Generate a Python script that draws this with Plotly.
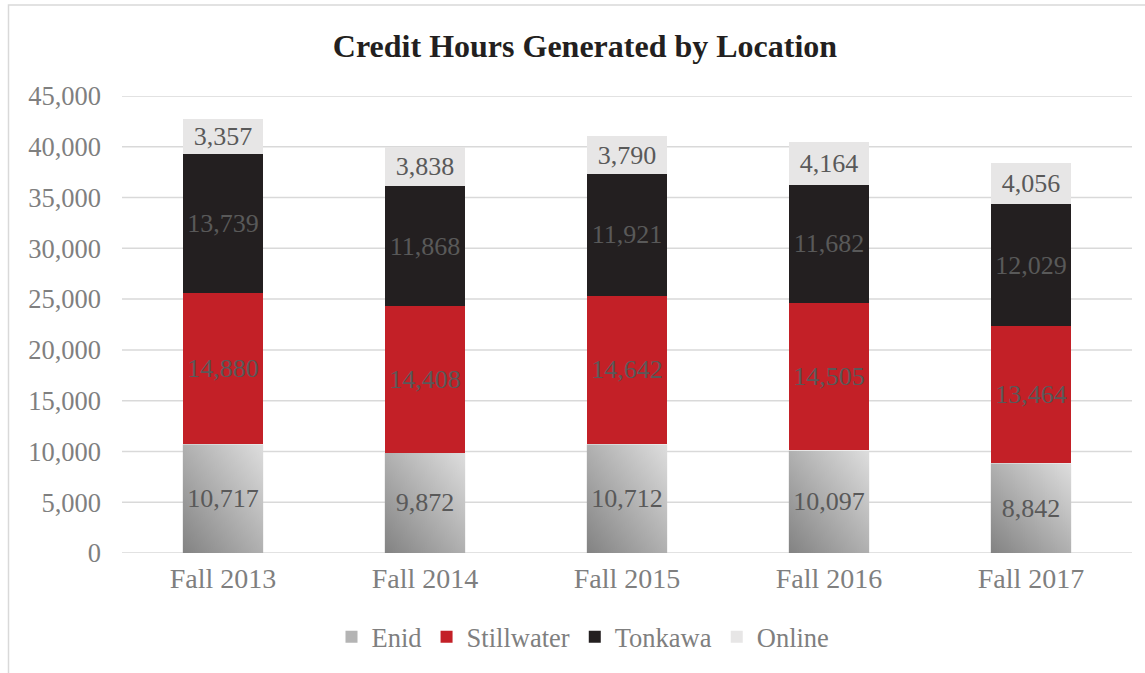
import base64
import plotly.graph_objects as go

categories = ["Fall 2013", "Fall 2014", "Fall 2015", "Fall 2016", "Fall 2017"]
enid = [10717, 9872, 10712, 10097, 8842]
stillwater = [14880, 14408, 14642, 14505, 13464]
tonkawa = [13739, 11868, 11921, 11682, 12029]
online = [3357, 3838, 3790, 4164, 4056]
y_ticks = [0, 5000, 10000, 15000, 20000, 25000, 30000, 35000, 40000, 45000]

FONT = "Liberation Serif, Times New Roman, serif"
LABEL = "#595959"
AXIS_TXT = "#7f7f7f"
GRID = "#d9d9d9"
BAR_W = 0.4

xpos = list(range(len(categories)))

svg = ('<svg xmlns="http://www.w3.org/2000/svg" width="100" height="100" viewBox="0 0 100 100" '
       'preserveAspectRatio="none"><defs><linearGradient id="g" x1="0" y1="1" x2="1" y2="0">'
       '<stop offset="0" stop-color="#828282"/><stop offset="1" stop-color="#dedede"/>'
       '</linearGradient></defs><rect width="100" height="100" fill="url(#g)"/></svg>')
grad_src = "data:image/svg+xml;base64," + base64.b64encode(svg.encode()).decode()

fig = go.Figure()
fig.add_trace(go.Bar(x=xpos, y=enid, name="Enid", showlegend=False, width=BAR_W,
                     marker=dict(color="rgba(0,0,0,0)", line=dict(width=0)),
                     texttemplate="%{y:,}", textposition="inside", insidetextanchor="middle",
                     constraintext="none", textfont=dict(color=LABEL, size=26, family=FONT)))
fig.add_trace(go.Bar(x=[0], y=[0], name="Enid", width=BAR_W,
                     marker=dict(color="#b4b4b4", line=dict(width=0))))
for name, vals, col in [("Stillwater", stillwater, "#c32027"),
                        ("Tonkawa", tonkawa, "#231f20"),
                        ("Online", online, "#e7e6e6")]:
    fig.add_trace(go.Bar(x=xpos, y=vals, name=name, width=BAR_W,
                         marker=dict(color=col, line=dict(width=0)),
                         texttemplate="%{y:,}", textposition="inside", insidetextanchor="middle",
                         constraintext="none", textfont=dict(color=LABEL, size=26, family=FONT)))

images = []
for i, v in enumerate(enid):
    images.append(dict(source=grad_src, xref="x", yref="y", x=xpos[i] - BAR_W / 2, y=v,
                       sizex=BAR_W, sizey=v, xanchor="left", yanchor="top",
                       sizing="stretch", layer="below"))

shapes = []
for t in y_ticks:
    shapes.append(dict(type="line", xref="paper", yref="y", x0=0, x1=1, y0=t, y1=t,
                       line=dict(color=GRID, width=1.5), layer="below"))
# chart-area border
shapes.append(dict(type="rect", xref="paper", yref="paper",
                   x0=(8.5 - 122) / 1010, x1=(1160 - 122) / 1010,
                   y0=(553 - 690) / 457, y1=(553 - 5) / 457,
                   line=dict(color=GRID, width=1.5), layer="below"))

fig.update_layout(
    width=1145, height=673,
    barmode="stack", bargap=0.6,
    paper_bgcolor="white", plot_bgcolor="white",
    margin=dict(l=122, r=13, t=96, b=120),
    font=dict(family=FONT, color=AXIS_TXT, size=26),
    title=dict(text="<b>Credit Hours Generated by Location</b>", x=585 / 1145, xref="container",
               xanchor="center", y=1 - 46 / 673, yanchor="middle",
               font=dict(size=32, color="#231f20", family=FONT)),
    xaxis=dict(tickmode="array", tickvals=xpos, ticktext=categories, range=[-0.5, len(categories) - 0.5],
               showgrid=False, zeroline=False, showline=False, ticks="",
               tickfont=dict(size=28, color=AXIS_TXT), ticklabelstandoff=6),
    yaxis=dict(range=[0, 45000], tickvals=y_ticks, tickformat=",", showgrid=False, zeroline=False,
               showline=False, ticks="", tickfont=dict(size=26.5, color=AXIS_TXT), ticklabelstandoff=20),
    legend=dict(orientation="h", x=(583 - 122) / 1010, xanchor="center", y=(553 - 637) / 457,
                yanchor="middle", font=dict(size=26.5, color=AXIS_TXT), traceorder="normal",
                itemwidth=30, bgcolor="rgba(0,0,0,0)"),
    images=images,
    shapes=shapes,
    showlegend=True,
)

fig.write_html("out.html", config={"displayModeBar": False},
               post_script="document.body.style.margin='0';")
